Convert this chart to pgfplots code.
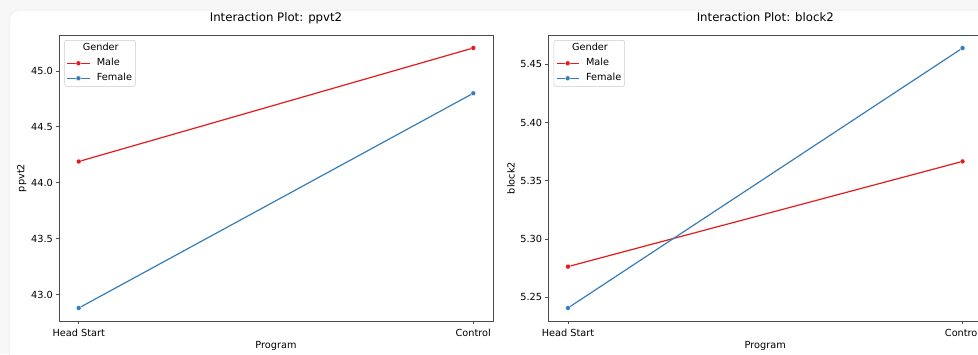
\documentclass[border=0pt]{standalone}
\usepackage{fontspec}
\setmainfont{DejaVu Sans}
\usepackage{pgfplots}
\pgfplotsset{compat=1.18}
\definecolor{mred}{HTML}{E41A1C}
\definecolor{mblue}{HTML}{377EB8}
\definecolor{spine}{gray}{0.3}
\newcommand{\smallf}{\fontsize{7.3}{8.8}\selectfont}
\pgfplotsset{
  ia/.style={
    scale only axis, width=325.5pt, height=214.5pt, anchor=south west,
    axis line style={spine, line width=0.6pt},
    xmin=-0.05, xmax=1.05, xtick={0,1}, xticklabels={Head Start,Control},
    tick align=outside, major tick length=2.6pt,
    every tick/.style={spine, line width=0.6pt},
    tick pos=left,
    /pgf/number format/assume math mode=true,
    ticklabel style={font=\smallf},
    yticklabel style={xshift=1.5pt},
    label style={font=\smallf},
    title style={font=\fontsize{8.8}{10.5}\selectfont, at={(axis description cs:0.5,1)}, anchor=base, yshift=4.2pt},
    xlabel=Program,
    xlabel style={at={(axis description cs:0.5,-0.0874)}, anchor=center},
    ylabel style={at={(axis description cs:-0.086,0.5)}, anchor=center},
    legend style={at={(axis description cs:0.0125,0.9825)}, anchor=north west,
      draw=black!20, rounded corners=1.5pt, fill=white, font=\smallf,
      inner xsep=1.5pt, inner ysep=1.5pt, row sep=2.25pt, column sep=4pt,
      nodes={inner sep=1pt, text height=5.5pt, text depth=1.5pt}},
    legend cell align=left,
    legend image code/.code={\draw[mark repeat=2,mark phase=2,##1] plot coordinates {(0pt,0pt) (8.35pt,0pt) (16.7pt,0pt)};},
  },
  sred/.style={mred, line width=0.9pt, mark=*, mark size=1.9pt, mark options={fill=mred, draw=white, line width=0.3pt}},
  sblue/.style={mblue, line width=0.9pt, mark=*, mark size=1.9pt, mark options={fill=mblue, draw=white, line width=0.3pt}},
}
\begin{document}
\begin{tikzpicture}
\useasboundingbox (0,0) rectangle (733.5pt,265.5pt);
\clip (0,0) rectangle (733.5pt,265.5pt);
\fill[black!3] (0,0) rectangle (733.5pt,265.5pt);
\fill[black!5, rounded corners=7pt] (6.5pt,-20pt) rectangle (800pt,258.3pt);
\fill[white, rounded corners=7pt] (7.5pt,-20pt) rectangle (800pt,257.3pt);

\begin{axis}[ia, at={(44.25pt,24.75pt)},
  title={Interaction Plot: ppvt2}, ylabel={ppvt2},
  ymin=42.764, ymax=45.321, ytick={43,43.5,44,44.5,45},
  yticklabel style={/pgf/number format/.cd, fixed, fixed zerofill, precision=1}]
\addlegendimage{empty legend}
\addlegendentry{\hspace*{-10.5pt}Gender}
\addplot[sred] coordinates {(0,44.19) (1,45.205)};
\addlegendentry{Male}
\addplot[sblue] coordinates {(0,42.88) (1,44.80)};
\addlegendentry{Female}
\end{axis}

\begin{axis}[ia, at={(411.2pt,24.75pt)},
  title={Interaction Plot: block2}, ylabel={block2},
  ymin=5.2297, ymax=5.4752, ytick={5.25,5.30,5.35,5.40,5.45},
  yticklabel style={/pgf/number format/.cd, fixed, fixed zerofill, precision=2}]
\addlegendimage{empty legend}
\addlegendentry{\hspace*{-10.5pt}Gender}
\addplot[sred] coordinates {(0,5.2764) (1,5.3667)};
\addlegendentry{Male}
\addplot[sblue] coordinates {(0,5.2409) (1,5.4640)};
\addlegendentry{Female}
\end{axis}
\end{tikzpicture}
\end{document}
